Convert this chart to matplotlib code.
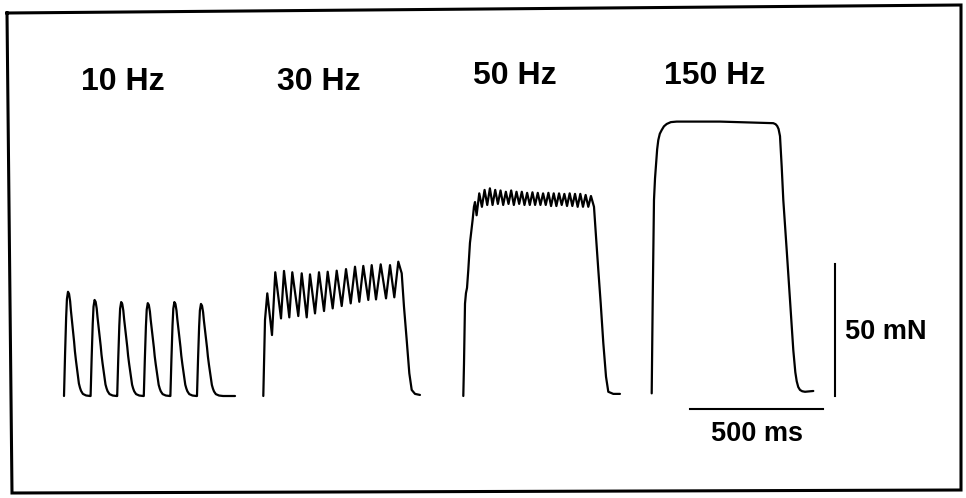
import matplotlib
matplotlib.use("Agg")
import matplotlib.pyplot as plt
import numpy as np
from matplotlib.lines import Line2D

# ---------------------------------------------------------------------------
# Force recordings (time in ms from stimulus onset, force in mN)
# ---------------------------------------------------------------------------
freq_labels = ["10 Hz", "30 Hz", "50 Hz", "150 Hz"]

# 10 Hz: six separate twitches, one every 100 ms
twitch_peaks_10 = [39.5, 36.4, 35.6, 35.2, 35.6, 34.9]
twitch_period_10 = 100.0
twitch_shape_ms = [0, 4, 8, 11, 15, 19, 23, 26, 30, 34, 38, 41, 45, 49, 53,
                   56, 60, 64, 71, 83, 98]
twitch_shape_frac = [0, 0.40, 0.75, 0.93, 1.00, 0.98, 0.91, 0.82, 0.72, 0.62,
                     0.52, 0.43, 0.34, 0.26, 0.18, 0.12, 0.08, 0.05, 0.02,
                     0.005, 0]
tail_end_10 = 643.0

# 30 Hz: unfused tetanus (peaks and troughs)
t30 = [0, 6.4, 15, 32.7, 45, 66.6, 77.8, 97.8, 109, 131.6, 144.4, 163.2,
       175.6, 194.4, 209.4, 228.3, 242.1, 260.9, 276, 294.8, 311, 328.6,
       344.8, 361, 376, 394.8, 407.6, 423.8, 441.4, 461.4, 476.4, 492.6,
       507.6, 520.4, 529, 539.2, 549, 558, 570.4, 589]
f30 = [0, 28.8, 38.9, 23.1, 46.9, 29.4, 47.4, 29.8, 46.9, 30.3, 46.5, 29.8,
       46.1, 31.3, 46.9, 32.2, 47.1, 33.2, 47.5, 34.1, 48.1, 35.1, 49.0, 35.7,
       49.3, 36.4, 49.6, 36.6, 49.9, 37.0, 49.6, 37.4, 50.9, 46.5, 33.8, 21.2,
       8.6, 2.3, 0.8, 0.4]

# 50 Hz: nearly fused tetanus
t50_rise = [0, 2.6, 6.4, 10, 14, 18.8, 25, 28, 35, 40, 44, 50]
f50_rise = [0, 12.1, 35, 39, 41, 47.8, 58, 60.6, 66.7, 71.7, 73.5, 68.5]
stim_period_50 = 20.0
first_peak_50 = 60.0
peaks_50 = [76.8, 78.1, 78.7, 78.1, 77.9, 77.4, 77.9, 77.4, 77.4, 77.0, 77.2,
            77.0, 76.8, 77.0, 76.8, 76.8, 76.6, 76.8, 76.6, 76.6, 76.2, 75.8]
troughs_50 = [71.7, 72.4, 72.4, 72.8, 72.4, 72.8, 72.4, 72.8, 72.4, 72.4,
              72.4, 72.4, 72.4, 72.0, 72.0, 72.4, 72.0, 72.0, 71.7, 71.7, 71.7]
t50_fall = [491.4, 499, 507.6, 516.6, 526.4, 536.6, 545.2, 564, 589]
f50_fall = [71.7, 60.4, 47.8, 35.2, 20.1, 7.3, 1.6, 0.8, 0.8]

# 150 Hz: fused tetanus
t150 = [0, 3.8, 8.6, 12.5, 16.2, 20.5, 24.8, 30.5, 37.6, 46, 56.4, 72, 94,
        256.8, 457.2, 466, 472, 477, 482.4, 488.8, 494.8, 507.6, 520, 532.4,
        540, 545.2, 551, 557.6, 566, 576.4, 607.6]
f150 = [1.0, 36.4, 74.3, 82.5, 87.6, 93.5, 97.0, 99.4, 100.8, 102.2, 103.1,
        103.8, 104.0, 104.0, 103.4, 103.0, 102.3, 101.2, 98.5, 86.9, 74.3,
        55.3, 36.4, 17.4, 9.0, 5.6, 3.4, 2.3, 1.8, 1.6, 1.9]

# scale bars
bar_force_mN = 50
bar_time_ms = 500

# ---------------------------------------------------------------------------
# Layout (pixel grid of the panel -> data units)
# ---------------------------------------------------------------------------
W, H = 966, 498
MS_PER_PX = 3.76
MN_PER_PX = 0.379
BASE_PX = 396.0


def to_data(xp, yp):
    return xp * MS_PER_PX, (BASE_PX - yp) * MN_PER_PX


fig = plt.figure(figsize=(W / 100, H / 100), dpi=100)
fig.patch.set_facecolor("white")
ax = fig.add_axes([0, 0, 1, 1])
ax.set_xlim(0, W * MS_PER_PX)
ax.set_ylim((BASE_PX - H) * MN_PER_PX, BASE_PX * MN_PER_PX)
ax.axis("off")

trace_kw = dict(color="black", lw=1.6, solid_joinstyle="round",
                solid_capstyle="round")

# onsets of the four recordings along the panel
onsets = [to_data(x, 0)[0] for x in (64.0, 263.3, 463.3, 651.7)]

# 10 Hz trace assembled from individual twitches
t10, f10 = [], []
for k, pk in enumerate(twitch_peaks_10):
    for ts, fr in zip(twitch_shape_ms, twitch_shape_frac):
        t10.append(k * twitch_period_10 + ts)
        f10.append(pk * fr)
t10.append(tail_end_10)
f10.append(0.0)
ax.plot(np.array(t10) + onsets[0], f10, **trace_kw)

# 30 Hz
ax.plot(np.array(t30) + onsets[1], f30, **trace_kw)

# 50 Hz: rise, ripple, relaxation
t50 = list(t50_rise)
f50 = list(f50_rise)
for k, pk in enumerate(peaks_50):
    t50.append(first_peak_50 + k * stim_period_50)
    f50.append(pk)
    if k < len(troughs_50):
        t50.append(first_peak_50 + k * stim_period_50 + stim_period_50 / 2)
        f50.append(troughs_50[k])
t50 += t50_fall
f50 += f50_fall
ax.plot(np.array(t50) + onsets[2], f50, **trace_kw)

# 150 Hz
ax.plot(np.array(t150) + onsets[3], f150, **trace_kw)

# frequency labels
label_font = dict(family="Liberation Sans", weight="bold", color="black")
label_pos = [(81, 90), (277, 90), (473, 84), (664, 84)]
for lab, (xp, yp) in zip(freq_labels, label_pos):
    x, y = to_data(xp, yp)
    ax.text(x, y, lab, fontsize=23, ha="left", va="baseline", **label_font)

# scale bars
bx, _ = to_data(835, 0)
ax.plot([bx, bx], [0, bar_force_mN], color="black", lw=1.5)
hx0, hy = to_data(690, 409)
ax.plot([hx0, hx0 + bar_time_ms], [hy, hy], color="black", lw=1.5)

x, y = to_data(845, 339)
ax.text(x, y, f"{bar_force_mN} mN", fontsize=19.5, ha="left",
        va="baseline", **label_font)
x, y = to_data(757, 441)
ax.text(x, y, f"{bar_time_ms} ms", fontsize=19.5, ha="center",
        va="baseline", **label_font)

# panel frame
corners = [(7, 13), (961, 5), (961, 490), (12, 493), (7, 13)]
fx = [c[0] / W for c in corners]
fy = [1 - c[1] / H for c in corners]
fig.add_artist(Line2D(fx, fy, transform=fig.transFigure, color="black",
                      lw=2.2, solid_joinstyle="miter"))

fig.savefig("out.png", dpi=100, facecolor="white")
